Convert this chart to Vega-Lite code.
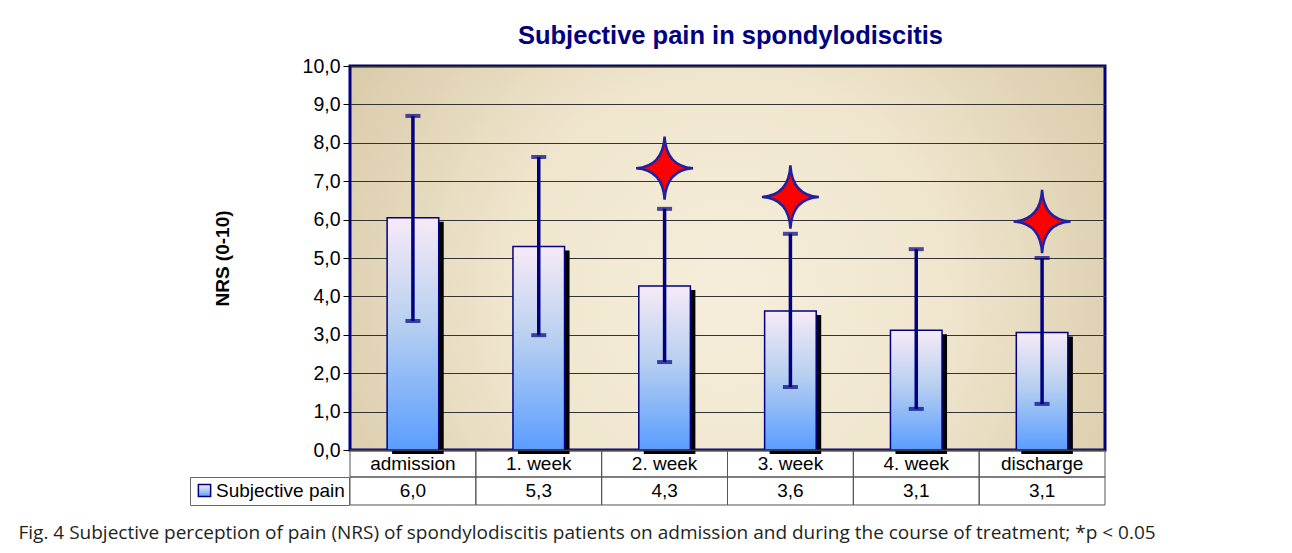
{
  "$schema": "https://vega.github.io/schema/vega-lite/v6.json",
  "width": 755,
  "height": 384,
  "autosize": {"type": "none"},
  "padding": {"left": 350, "top": 66, "right": 187, "bottom": 103},
  "background": "white",
  "title": {
    "text": "Subjective pain in spondylodiscitis",
    "font": "Liberation Sans",
    "fontSize": 25.5,
    "fontWeight": "bold",
    "color": "#000080",
    "anchor": "middle",
    "offset": 7,
    "dx": 3
  },
  "data": {
    "values": [
      {"cat": "admission", "value": 6.05, "lo": 3.36, "hi": 8.70, "star": null, "label": "6,0", "series": "Subjective pain"},
      {"cat": "1. week", "value": 5.30, "lo": 2.99, "hi": 7.63, "star": null, "label": "5,3", "series": "Subjective pain"},
      {"cat": "2. week", "value": 4.27, "lo": 2.29, "hi": 6.28, "star": 7.34, "label": "4,3", "series": "Subjective pain"},
      {"cat": "3. week", "value": 3.62, "lo": 1.64, "hi": 5.63, "star": 6.59, "label": "3,6", "series": "Subjective pain"},
      {"cat": "4. week", "value": 3.12, "lo": 1.07, "hi": 5.23, "star": null, "label": "3,1", "series": "Subjective pain"},
      {"cat": "discharge", "value": 3.06, "lo": 1.20, "hi": 5.00, "star": 5.95, "label": "3,1", "series": "Subjective pain"}
    ]
  },
  "encoding": {
    "x": {
      "field": "cat",
      "type": "nominal",
      "sort": null,
      "title": "Fig. 4 Subjective perception of pain (NRS) of spondylodiscitis patients on admission and during the course of treatment; *p < 0.05",
      "scale": {"paddingInner": 0, "paddingOuter": 0}
    }
  },
  "layer": [
    {
      "mark": {"type": "bar", "fill": "#000000", "width": {"band": 0.41}, "xOffset": 5, "yOffset": 4},
      "encoding": {
        "y": {"field": "value", "type": "quantitative", "title": "NRS (0-10)", "scale": {"domain": [0, 10], "nice": false}}
      }
    },
    {
      "mark": {
        "type": "bar",
        "width": {"band": 0.41},
        "strokeWidth": 1.5,
        "fill": {"gradient": "linear", "x1": 0, "y1": 0, "x2": 0, "y2": 1,
          "stops": [
            {"offset": 0, "color": "#f7eaf7"},
            {"offset": 0.45, "color": "#b9d0f0"},
            {"offset": 1, "color": "#5a9dff"}
          ]}
      },
      "encoding": {
        "y": {"field": "value", "type": "quantitative", "title": "NRS (0-10)", "scale": {"domain": [0, 10], "nice": false}},
        "stroke": {
          "field": "series",
          "type": "nominal",
          "scale": {"range": ["#000080"]},
          "legend": {
            "orient": "none",
            "legendX": -160,
            "legendY": 411,
            "title": null,
            "symbolType": "square",
            "symbolSize": 150,
            "symbolFillColor": "#6fa6f8",
            "symbolStrokeWidth": 1.5,
            "labelFont": "Liberation Sans",
            "labelFontSize": 19,
            "labelColor": "#000000",
            "labelOffset": 2,
            "strokeColor": "#666666",
            "fillColor": "#ffffff",
            "padding": 4,
            "symbolOffset": 1,
            "cornerRadius": 0
          }
        }
      }
    },
    {
      "mark": {"type": "rule", "color": "#000080", "strokeWidth": 3.5},
      "encoding": {
        "y": {"field": "lo", "type": "quantitative", "title": "NRS (0-10)", "scale": {"domain": [0, 10], "nice": false}},
        "y2": {"field": "hi"}
      }
    },
    {
      "mark": {"type": "tick", "color": "#000080", "size": 15, "thickness": 4, "orient": "horizontal"},
      "encoding": {
        "y": {"field": "hi", "type": "quantitative", "title": "NRS (0-10)", "scale": {"domain": [0, 10], "nice": false}}
      }
    },
    {
      "mark": {"type": "tick", "color": "#000080", "size": 15, "thickness": 4, "orient": "horizontal"},
      "encoding": {
        "y": {"field": "lo", "type": "quantitative", "title": "NRS (0-10)", "scale": {"domain": [0, 10], "nice": false}}
      }
    },
    {
      "transform": [{"filter": "datum.star != null"}],
      "mark": {
        "type": "point",
        "shape": "M0,-1 Q0.05,-0.05 0.9,0 Q0.05,0.05 0,1 Q-0.05,0.05 -0.9,0 Q-0.05,-0.05 0,-1 Z",
        "size": 4000,
        "filled": true,
        "fill": "#ff0000",
        "stroke": "#2020a0",
        "strokeWidth": 2.5,
        "opacity": 1
      },
      "encoding": {
        "y": {"field": "star", "type": "quantitative", "title": "NRS (0-10)", "scale": {"domain": [0, 10], "nice": false}}
      }
    },
    {
      "mark": {"type": "bar", "width": {"band": 1}, "fillOpacity": 0, "fill": "#ffffff", "stroke": "#555555", "strokeWidth": 1},
      "encoding": {
        "y": {"datum": -0.005, "type": "quantitative", "scale": {"domain": [0, 10], "nice": false}},
        "y2": {"datum": -0.703}
      }
    },
    {
      "mark": {"type": "bar", "width": {"band": 1}, "fillOpacity": 0, "fill": "#ffffff", "stroke": "#555555", "strokeWidth": 1},
      "encoding": {
        "y": {"datum": -0.703, "type": "quantitative", "scale": {"domain": [0, 10], "nice": false}},
        "y2": {"datum": -1.432}
      }
    },
    {
      "mark": {"type": "text", "font": "Liberation Sans", "fontSize": 19, "color": "#000000", "baseline": "middle", "align": "center"},
      "encoding": {
        "y": {"datum": -0.36, "type": "quantitative", "scale": {"domain": [0, 10], "nice": false}},
        "text": {"field": "cat"}
      }
    },
    {
      "mark": {"type": "text", "font": "Liberation Sans", "fontSize": 19, "color": "#000000", "baseline": "middle", "align": "center"},
      "encoding": {
        "y": {"datum": -1.07, "type": "quantitative", "scale": {"domain": [0, 10], "nice": false}},
        "text": {"field": "label"}
      }
    }
  ],
  "config": {
    "view": {
      "fill": {
        "gradient": "radial",
        "x1": 0.5, "y1": 0.55, "r1": 0,
        "x2": 0.5, "y2": 0.55, "r2": 0.72,
        "stops": [
          {"offset": 0, "color": "#f6eedb"},
          {"offset": 0.4, "color": "#f0e6ce"},
          {"offset": 1, "color": "#cfbe98"}
        ]
      },
      "stroke": "#000080",
      "strokeWidth": 3
    },
    "axisY": {
      "grid": true,
      "gridColor": "#333333",
      "gridWidth": 1,
      "gridOpacity": 1,
      "tickCount": 10,
      "tickColor": "#000000",
      "tickSize": 7,
      "domain": false,
      "labelFont": "Liberation Sans",
      "labelFontSize": 19.5,
      "labelColor": "#000000",
      "labelPadding": 3,
      "labelExpr": "replace(format(datum.value, '.1f'), '.', ',')",
      "titleFont": "Liberation Sans",
      "titleFontSize": 19,
      "titleFontWeight": "bold",
      "titleColor": "#000000",
      "titleX": -128,
      "titleY": 192,
      "titleAngle": 270,
      "titleAlign": "center",
      "titleBaseline": "middle"
    },
    "axisX": {
      "labels": false,
      "ticks": false,
      "domain": false,
      "grid": false,
      "titleFont": "Open Sans",
      "titleFontSize": 19,
      "titleFontWeight": "normal",
      "titleColor": "#231f20",
      "titleAnchor": "start",
      "titleAlign": "left",
      "titleBaseline": "middle",
      "titleX": -332,
      "titleY": 82
    }
  }
}
